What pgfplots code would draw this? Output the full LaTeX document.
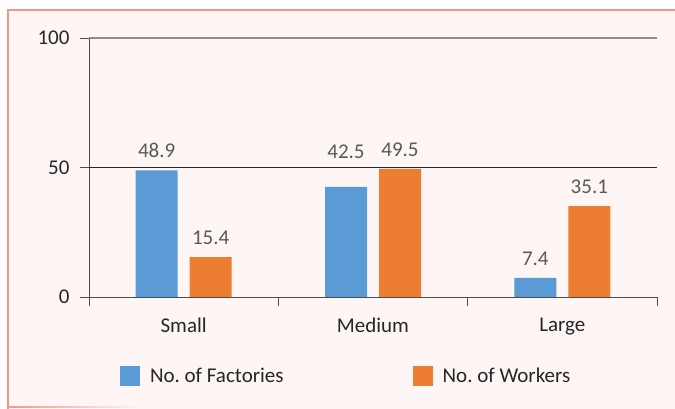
\documentclass[border=0pt]{standalone}
\usepackage{pgfplots}
\pgfplotsset{compat=1.18}
\usepackage{fontspec}
\setmainfont{Carlito}
\frenchspacing
\definecolor{bgpink}{HTML}{FEF6F4}
\definecolor{framec}{HTML}{F4958A}
\definecolor{barblue}{HTML}{5B9BD5}
\definecolor{barorange}{HTML}{ED7D31}
\definecolor{lblgray}{HTML}{595959}
\definecolor{txtdark}{HTML}{262626}
\pgfplotstableread{
x f w df dw
0 48.9 15.4 0 0
1 42.5 49.5 16 0
2 7.4 35.1 0 0
}\datatable
\begin{document}
\begin{tikzpicture}
\useasboundingbox (0pt,0pt) rectangle (675pt,409pt);
\fill[white] (0pt,0pt) rectangle (675pt,409pt);
\fill[bgpink] (8pt,0pt) rectangle (680pt,399pt);
\draw[framec, line width=1.4pt] (8pt,-2pt) -- (8pt,399pt) -- (680pt,399pt);
\shade[left color=framec, right color=bgpink] (8pt,1.3pt) rectangle (140pt,2.7pt);
\begin{axis}[
  at={(89pt,112pt)}, anchor=south west,
  scale only axis, width=568pt, height=259pt,
  xmin=-0.5, xmax=2.5, ymin=0, ymax=100,
  ybar,
  axis lines*=left,
  axis line style={draw=black!70, line width=0.9pt},
  xtick={-0.5,0.5,1.5,2.5},
  xticklabels={Small,Medium,Large,},
  x tick label as interval,
  ytick={0,50,100},
  tick align=outside,
  major tick length=9pt,
  tick style={draw=black!70, line width=0.9pt},
  /pgf/number format/assume math mode=true,
  tick label style={font=\fontsize{21}{24}\selectfont, text=txtdark},
  yticklabel style={xshift=-7pt},
  xticklabel style={yshift=-8pt},
  clip=false,
  nodes near coords={\pgfmathprintnumber[fixed,precision=1]{\pgfplotspointmeta}},
  every node near coord/.append style={font=\fontsize{21}{24}\selectfont, text=lblgray},
  legend columns=2,
  legend style={draw=none, fill=none, at={(0.0546,-0.305)}, anchor=west,
    inner sep=0pt, outer sep=0pt,
    font=\fontsize{21}{24}\selectfont, text=txtdark,
    /tikz/every odd column/.append style={column sep=8pt},
    /tikz/every even column/.append style={column sep=127pt}},
  legend cell align=left,
  legend image code/.code={\fill[#1] (0pt,-10pt) rectangle (20pt,10pt);},
]
\draw[color=black!85, line width=0.9pt] (axis cs:-0.5,50) -- (axis cs:2.5,50);
\draw[color=black!45, line width=1.3pt] (axis cs:-0.5,100) -- (axis cs:2.5,100);
\addplot[fill=barblue, draw=none, bar width=42pt, bar shift=-27pt,
  visualization depends on={\thisrow{df}\as\dy},
  every node near coord/.append style={yshift=9pt+\dy pt}]
  table[x=x,y=f]{\datatable};
\addlegendentry{No.\ of Factories}
\addplot[fill=barorange, draw=none, bar width=42pt, bar shift=27pt,
  visualization depends on={\thisrow{dw}\as\dy},
  every node near coord/.append style={yshift=9pt+\dy pt}]
  table[x=x,y=w]{\datatable};
\addlegendentry{No.\ of Workers}
\end{axis}
\end{tikzpicture}
\end{document}
